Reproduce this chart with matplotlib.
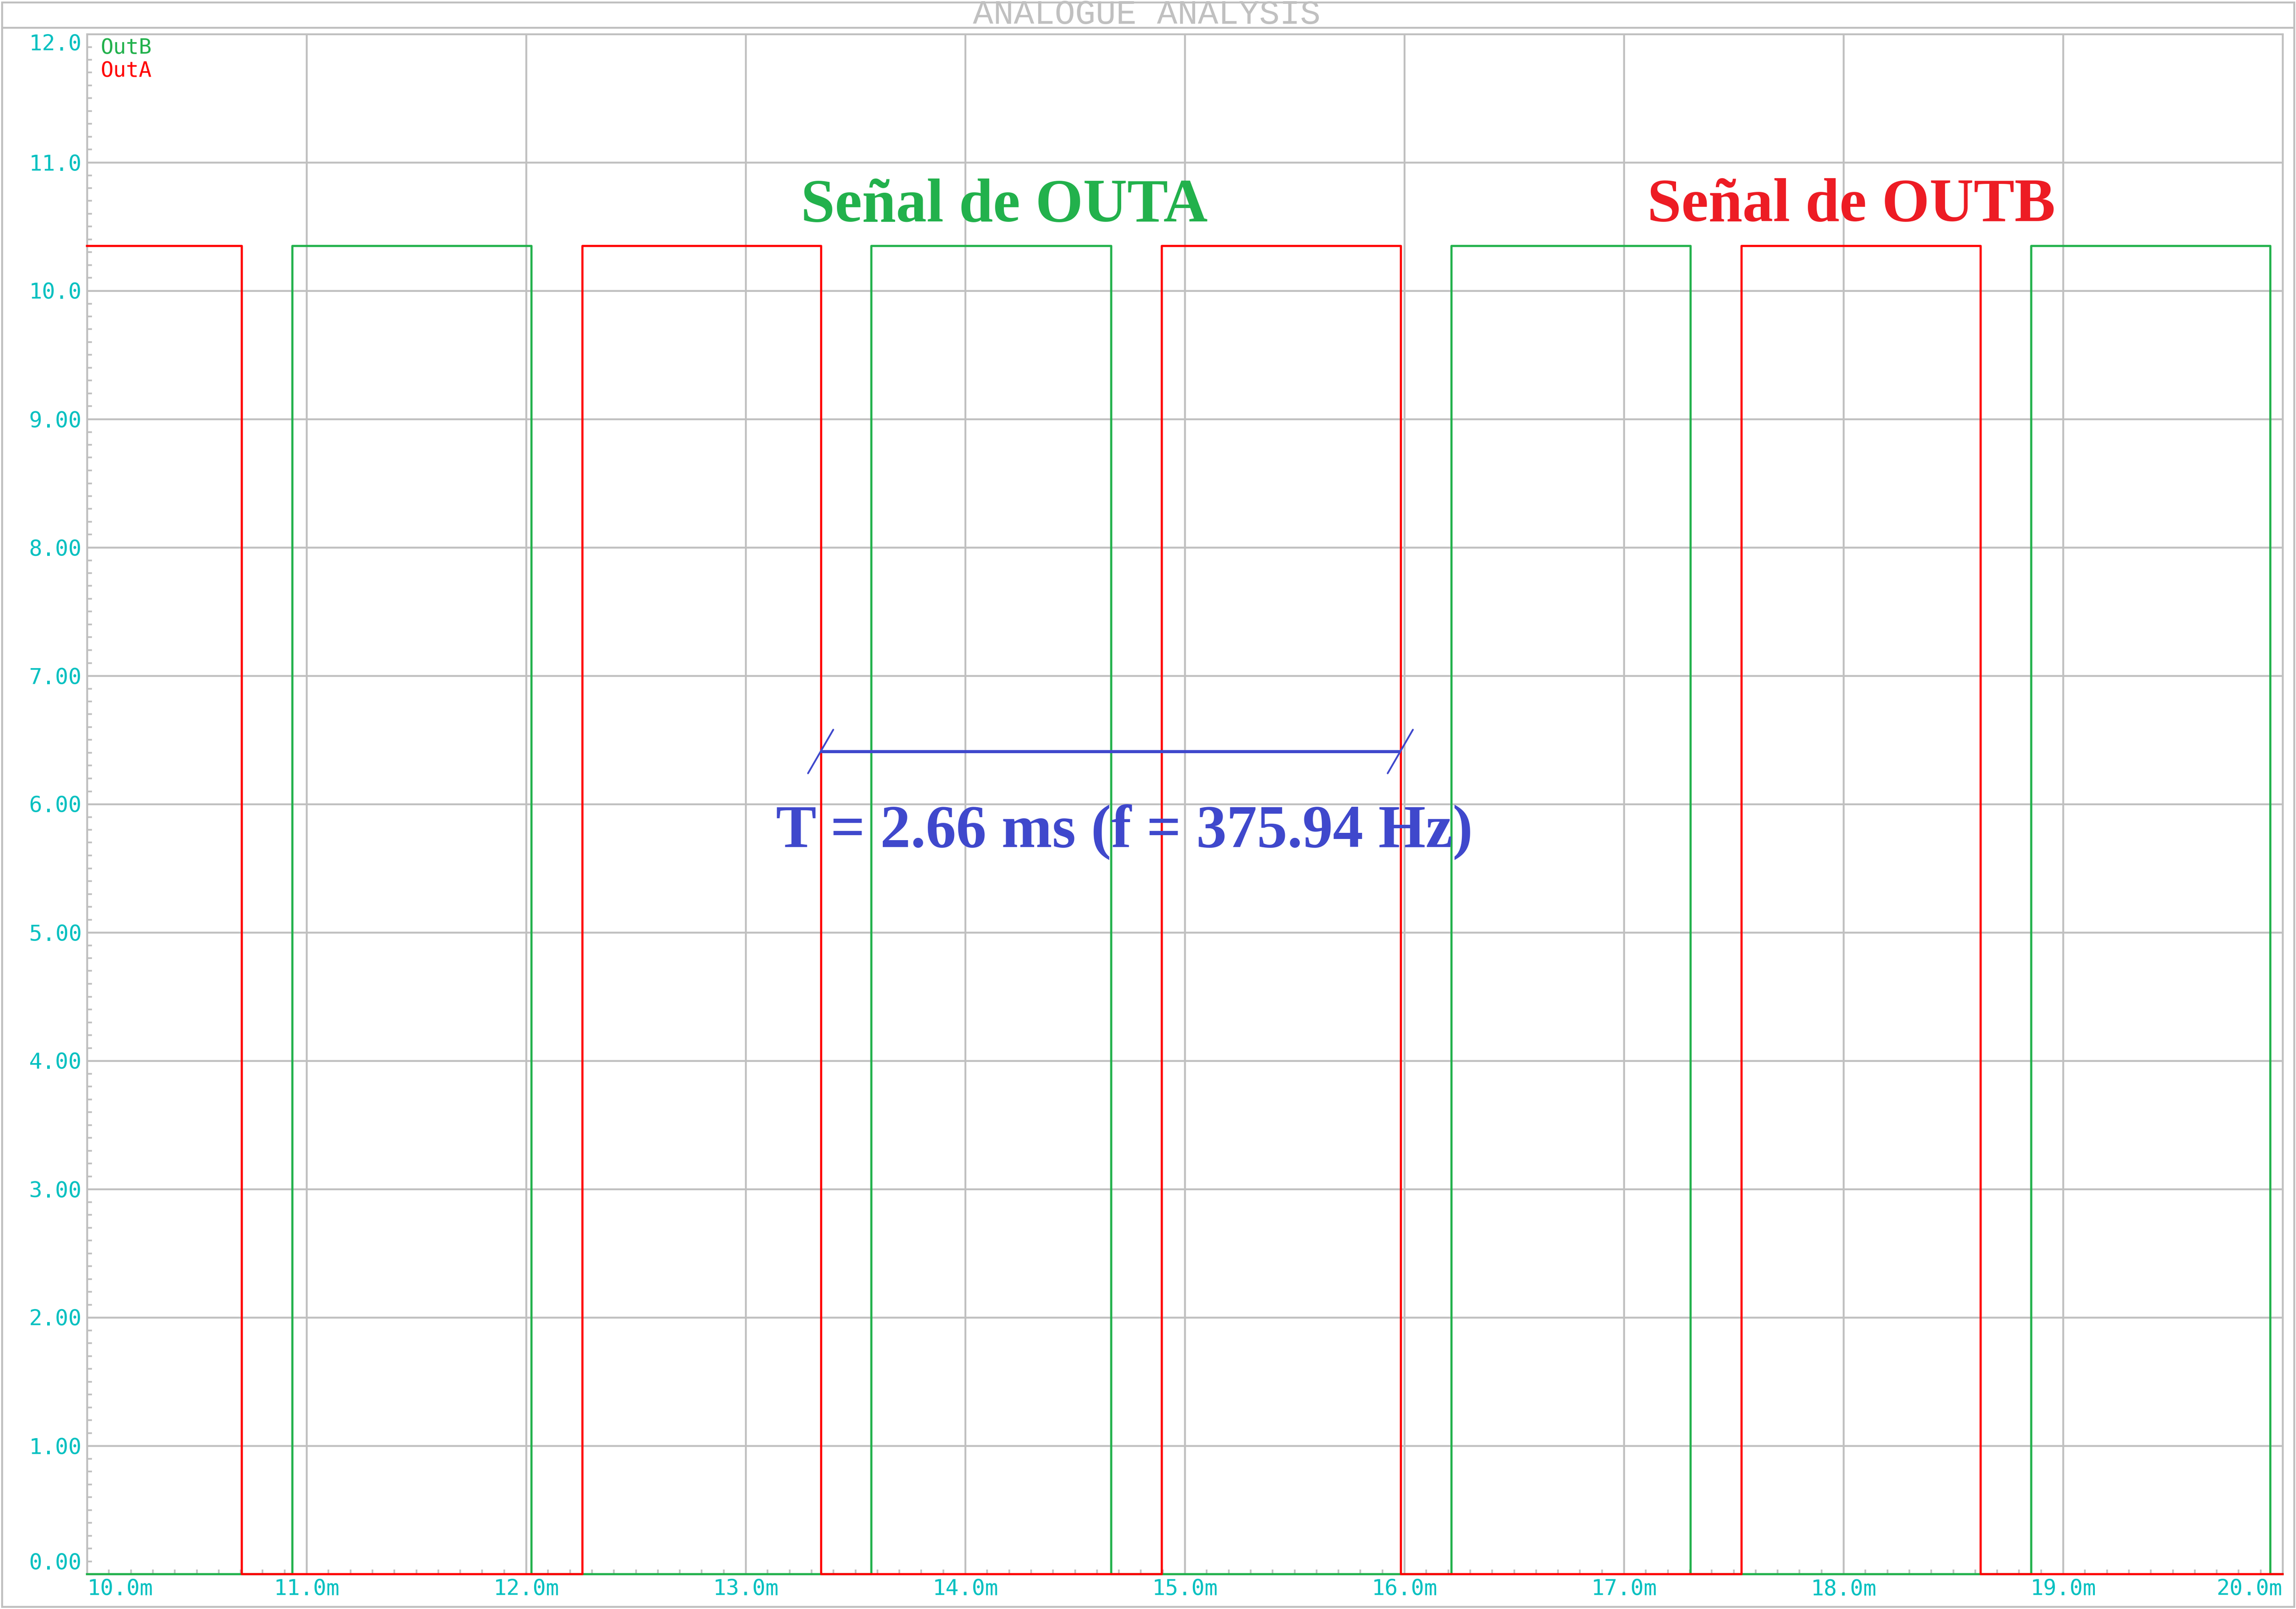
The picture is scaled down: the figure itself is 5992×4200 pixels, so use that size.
import matplotlib
matplotlib.use("Agg")
import matplotlib.pyplot as plt
from matplotlib.ticker import MultipleLocator
from matplotlib.patches import Rectangle
from matplotlib.lines import Line2D

# ---------------- data ----------------
# OutA (red) : level changes (time in ms, level in V), drawn as post-steps
outa_t = [10.0, 10.705, 12.257, 13.344, 14.895, 15.984, 17.535, 18.625, 20.0]
outa_v = [10.35, 0.0, 10.35, 0.0, 10.35, 0.0, 10.35, 0.0, 0.0]
# OutB (green)
outb_t = [10.0, 10.935, 12.024, 13.573, 14.665, 16.214, 17.304, 18.856, 19.945, 20.0]
outb_v = [0.0, 10.35, 0.0, 10.35, 0.0, 10.35, 0.0, 10.35, 0.0, 0.0]

x_ticks = [10, 11, 12, 13, 14, 15, 16, 17, 18, 19, 20]
x_labels = ["10.0m", "11.0m", "12.0m", "13.0m", "14.0m", "15.0m",
            "16.0m", "17.0m", "18.0m", "19.0m", "20.0m"]
y_ticks = [0, 1, 2, 3, 4, 5, 6, 7, 8, 9, 10, 11, 12]
y_labels = ["0.00", "1.00", "2.00", "3.00", "4.00", "5.00", "6.00",
            "7.00", "8.00", "9.00", "10.0", "11.0", "12.0"]

title = "ANALOGUE ANALYSIS"
label_outa = "Señal de OUTA"
label_outb = "Señal de OUTB"
period_text = "T = 2.66 ms (f = 375.94 Hz)"

# ---------------- style ----------------
W, H = 5992, 4200
GRAY = "#c0c0c0"
CYAN = "#00c0c0"
RED = "#ff0000"
GREEN = "#22b14c"
TXT_RED = "#ed1c24"
BLUE = "#3f48cc"

def fx(px):
    return px / W

def fy(py):
    return 1 - py / H

fig = plt.figure(figsize=(W / 100, H / 100), dpi=100)
fig.patch.set_facecolor("white")

# plot area in pixels
pl, pr, pt, pb = 227, 5957, 89, 4109
ax = fig.add_axes([fx(pl), fy(pb), fx(pr) - fx(pl), fy(pt) - fy(pb)])

ax.set_xlim(10, 20)
ax.set_ylim(0, 12)

for s in ax.spines.values():
    s.set_color(GRAY)
    s.set_linewidth(3.5)

ax.grid(which="major", color=GRAY, lw=3.5)
ax.set_axisbelow(True)

ax.set_xticks(x_ticks)
ax.set_xticklabels(x_labels)
ax.set_yticks(y_ticks)
ax.set_yticklabels(y_labels)
ax.xaxis.set_minor_locator(MultipleLocator(0.1))
ax.yaxis.set_minor_locator(MultipleLocator(0.1))
ax.tick_params(which="major", length=0, labelcolor=CYAN, labelsize=41)
ax.tick_params(axis="x", which="major", pad=9)
ax.tick_params(axis="y", which="major", pad=10)
ax.tick_params(which="minor", direction="in", length=9, width=3.2, color=GRAY)
for lab in ax.get_xticklabels() + ax.get_yticklabels():
    lab.set_fontfamily("DejaVu Sans Mono")
xl = ax.get_xticklabels()
xl[0].set_horizontalalignment("left")
xl[-1].set_horizontalalignment("right")
yl = ax.get_yticklabels()
yl[0].set_verticalalignment("bottom")
yl[-1].set_verticalalignment("top")

# traces
ax.step(outb_t, outb_v, where="post", color=GREEN, lw=4, clip_on=False, zorder=3)
ax.step(outa_t, outa_v, where="post", color=RED, lw=4, clip_on=False, zorder=4)

# annotations
ax.text(14.178, 10.54, label_outa, color=GREEN, fontsize=115, fontweight="bold",
        family="Liberation Serif", ha="center", va="baseline", zorder=6)
ax.text(18.036, 10.544, label_outb, color=TXT_RED, fontsize=115, fontweight="bold",
        family="Liberation Serif", ha="center", va="baseline", zorder=6)

t1, t2 = outa_t[3], outa_t[5]
yb = 6.41
ax.plot([t1, t2], [yb, yb], color=BLUE, lw=5.8, zorder=7, solid_capstyle="butt")
for tt in (t1, t2):
    ax.plot([tt - 0.06, tt + 0.055], [yb - 0.17, yb + 0.17], color=BLUE, lw=3.3,
            zorder=7, solid_capstyle="round")
ax.text(14.7255, 5.669, period_text, color=BLUE, fontsize=114, fontweight="bold",
        family="Liberation Serif", ha="center", va="baseline", zorder=8)

# legend names
fig.text(fx(263), fy(140), "OutB", color=GREEN, fontsize=40,
         family="DejaVu Sans Mono", ha="left", va="baseline")
fig.text(fx(263), fy(200), "OutA", color=RED, fontsize=40,
         family="DejaVu Sans Mono", ha="left", va="baseline")

# outer frame and title band
fig.add_artist(Rectangle((fx(5), fy(4194)), fx(5987) - fx(5), fy(6) - fy(4194),
                         fill=False, ec=GRAY, lw=3.6, transform=fig.transFigure))
fig.add_artist(Line2D([fx(5), fx(5987)], [fy(72), fy(72)], color=GRAY, lw=3.6,
                      transform=fig.transFigure))
fig.text(fx(2993), fy(62), title, color=GRAY, fontsize=64,
         family="Liberation Mono", ha="center", va="baseline")

fig.savefig("out.png", dpi=100)
